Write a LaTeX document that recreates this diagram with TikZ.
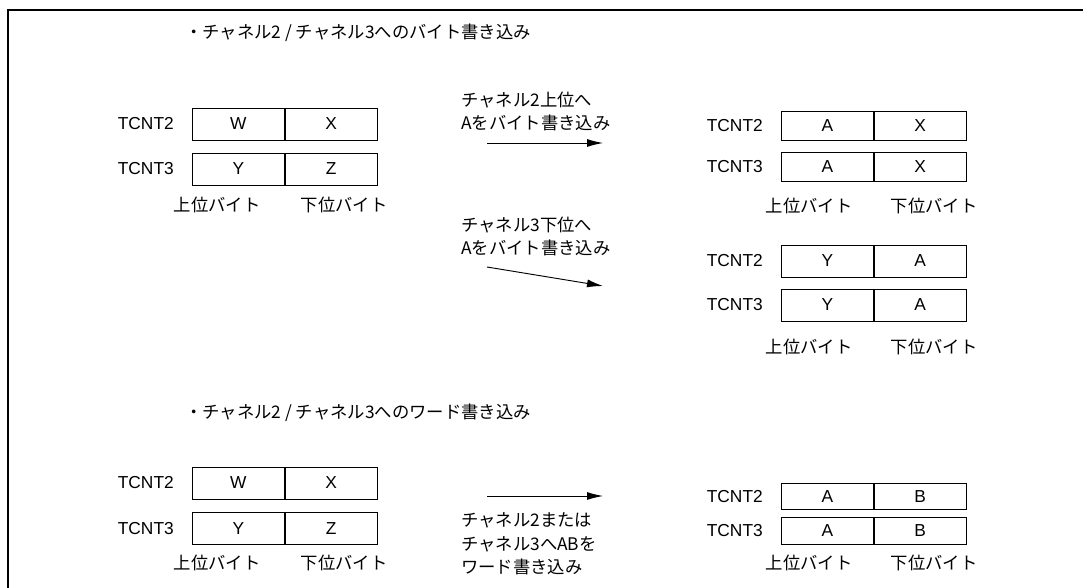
\documentclass[tikz,border=0pt]{standalone}
\usepackage{fontspec}
\setmainfont{Liberation Sans}
\newfontfamily\jp{Noto Sans CJK JP}
\usetikzlibrary{arrows.meta}
\tikzset{
  cellA/.style={draw, line width=0.6pt, minimum width=69pt, inner sep=0pt, font=\fontsize{13}{15}\selectfont},
  reglab/.style={inner sep=0pt, anchor=east, font=\fontsize{13}{15}\selectfont},
  jtext/.style={inner sep=0pt, font=\jp\fontsize{13}{17.6}\selectfont, align=left},
  arr/.style={line width=0.7pt, -{Latex[length=12pt,width=6pt]}},
  frame/.style={line width=1.5pt}
}
\newcommand\regrow[7]{%
  \node[cellA, minimum height=#4, anchor=west] (#1h) at (#2,#3) {#6};
  \node[cellA, minimum height=#4, anchor=west] (#1l) at (#1h.east) {#7};
  \node[reglab] (#1t) at ({#2-18},#3) {#5};
}
\begin{document}
\begin{tikzpicture}[x=0.75pt,y=-0.75pt]
\useasboundingbox (0,0) rectangle (1083,588);
\draw[frame] (8,588) -- (8,10) -- (1083,10);

% section 1 title
\node[jtext, anchor=west] (t1) at (185,33) {・チャネル2 / チャネル3へのバイト書き込み};

% left group 1
\regrow{la}{192}{124}{24pt}{TCNT2}{W}{X}
\regrow{lb}{192}{169}{24pt}{TCNT3}{Y}{Z}
\node[jtext] (lhi1) at (217,205) {上位バイト};
\node[jtext] (llo1) at (344,205) {下位バイト};

% arrow 1
\node[jtext, anchor=west] (m1) at (461,111.5) {チャネル2上位へ\\Aをバイト書き込み};
\coordinate (a1s) at (487,143);
\coordinate (a1e) at (603,143);
\draw[arr] (a1s) -- (a1e);

% arrow 2
\node[jtext, anchor=west] (m2) at (461,236.5) {チャネル3下位へ\\Aをバイト書き込み};
\coordinate (a2s) at (487,267);
\coordinate (a2e) at (603,286);
\draw[arr] (a2s) -- (a2e);

% right group 1
\regrow{ra}{781}{126}{22pt}{TCNT2}{A}{X}
\regrow{rb}{781}{167}{22pt}{TCNT3}{A}{X}
\node[jtext] (rhi1) at (809,206) {上位バイト};
\node[jtext] (rlo1) at (934,206) {下位バイト};

% right group 2
\regrow{rc}{781}{261}{24pt}{TCNT2}{Y}{A}
\regrow{rd}{781}{305}{24pt}{TCNT3}{Y}{A}
\node[jtext] (rhi2) at (809,347) {上位バイト};
\node[jtext] (rlo2) at (934,347) {下位バイト};

% section 2 title
\node[jtext, anchor=west] (t2) at (185,413) {・チャネル2 / チャネル3へのワード書き込み};

% left group 2
\regrow{lc}{192}{483}{24pt}{TCNT2}{W}{X}
\regrow{ld}{192}{528.5}{24pt}{TCNT3}{Y}{Z}
\node[jtext] (lhi2) at (217,563) {上位バイト};
\node[jtext] (llo2) at (344,563) {下位バイト};

% arrow 3
\coordinate (a3s) at (487,496);
\coordinate (a3e) at (603,496);
\draw[arr] (a3s) -- (a3e);
\node[jtext, anchor=west] (m3) at (461,544) {チャネル2または\\チャネル3へABを\\ワード書き込み};

% right group 3
\regrow{re}{781}{496.5}{20pt}{TCNT2}{A}{B}
\regrow{rf}{781}{531}{20pt}{TCNT3}{A}{B}
\node[jtext] (rhi3) at (809,563) {上位バイト};
\node[jtext] (rlo3) at (934,563) {下位バイト};
\end{tikzpicture}
\end{document}
